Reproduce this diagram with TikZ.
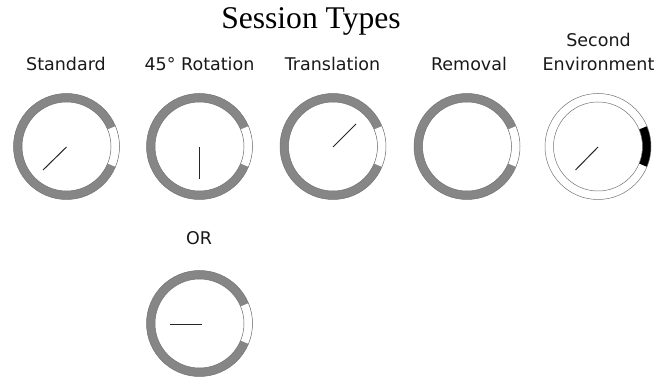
\documentclass[tikz,border=0pt]{standalone}
\usepackage{fontspec}
\setmainfont{Liberation Serif}
\newfontfamily\lab{DejaVu Sans}
\definecolor{ringgray}{RGB}{134,134,134}
\tikzset{
  x=1pt,y=-1pt,
  ttl/.style={font=\fontsize{31.6}{34}\selectfont,inner sep=0pt},
  lbl/.style={font=\lab\fontsize{17.5}{21}\selectfont,align=center,inner sep=0pt,text=black!90},
  rod/.style={draw=black!85,line width=1pt},
  edge/.style={draw=black!55,line width=0.5pt}
}
\newcommand{\ring}[4]{% x, y, arc fill, gap fill
  \begin{scope}[shift={(#1,#2)}]
    \fill[#3,even odd rule] (0,0) circle[radius=53] (0,0) circle[radius=44.5];
    \fill[#4] (22.5:53) arc[start angle=22.5,end angle=-22.5,radius=53] -- (-22.5:44.5) arc[start angle=-22.5,end angle=22.5,radius=44.5] -- cycle;
    \draw[edge] (0,0) circle[radius=53] (0,0) circle[radius=44.5];
  \end{scope}}
\begin{document}
\begin{tikzpicture}
\useasboundingbox (0,0) rectangle (665,379);
\node[ttl] (title) at (311,21.5) {Session Types};
\node[lbl] (l1) at (66,64) {Standard};
\node[lbl] (l2) at (199.5,64) {45° Rotation};
\node[lbl] (l3) at (332.5,64) {Translation};
\node[lbl] (l4) at (469,64) {Removal};
\node[lbl] (l5) at (598.5,40) {Second};
\node[lbl] (l6) at (598.5,64) {Environment};
\node[lbl] (l7) at (199,238) {OR};

\ring{66.5}{146.5}{ringgray}{white}
\ring{199.5}{146.5}{ringgray}{white}
\ring{333}{146.5}{ringgray}{white}
\ring{467}{146.5}{ringgray}{white}
\ring{598}{146.5}{white}{black}
\ring{199.5}{323.5}{ringgray}{white}

\coordinate (a1) at (66.5,147); \coordinate (b1) at (43,170);
\coordinate (a2) at (199.5,147); \coordinate (b2) at (199.5,179.5);
\coordinate (a3) at (333,147); \coordinate (b3) at (356,124);
\coordinate (a5) at (598,147); \coordinate (b5) at (575.5,170);
\coordinate (a6) at (201.5,324.5); \coordinate (b6) at (169.5,324.5);
\draw[rod] (a1) -- (b1);
\draw[rod] (a2) -- (b2);
\draw[rod] (a3) -- (b3);
\draw[rod] (a5) -- (b5);
\draw[rod] (a6) -- (b6);
\end{tikzpicture}
\end{document}
